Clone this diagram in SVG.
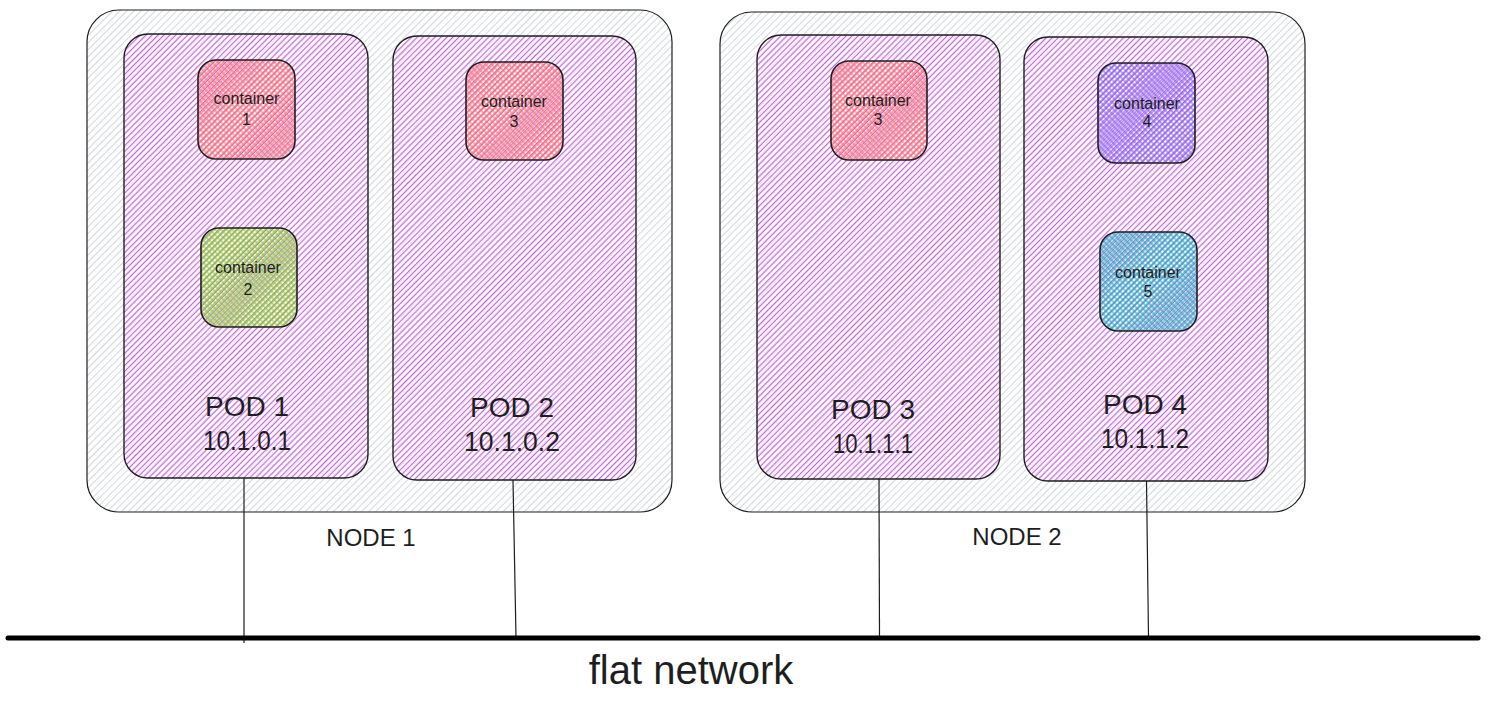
<svg xmlns="http://www.w3.org/2000/svg" width="1488" height="706" viewBox="0 0 1488 706">
  <defs>
    <pattern id="hNode" width="5" height="5" patternUnits="userSpaceOnUse" patternTransform="rotate(45)">
      <rect width="5" height="5" fill="#ffffff"/>
      <line x1="2.5" y1="0" x2="2.5" y2="5" stroke="#ced4da" stroke-width="0.9"/>
    </pattern>
    <pattern id="hPod" width="4.2" height="4.2" patternUnits="userSpaceOnUse" patternTransform="rotate(45)">
      <rect width="4.2" height="4.2" fill="#ffffff" fill-opacity="0.45"/>
      <line x1="2.1" y1="0" x2="2.1" y2="4.2" stroke="#c65fdd" stroke-width="1.15"/>
    </pattern>
    <pattern id="xRed" width="4" height="4" patternUnits="userSpaceOnUse" patternTransform="rotate(45)">
      <path d="M2 0V4M0 2H4" stroke="#ff6b6b" stroke-width="1.1"/>
    </pattern>
    <pattern id="xGreen" width="4" height="4" patternUnits="userSpaceOnUse" patternTransform="rotate(45)">
      <path d="M2 0V4M0 2H4" stroke="#82c91e" stroke-width="1.1"/>
    </pattern>
    <pattern id="xViolet" width="4" height="4" patternUnits="userSpaceOnUse" patternTransform="rotate(45)">
      <path d="M2 0V4M0 2H4" stroke="#8460f2" stroke-width="1.1"/>
    </pattern>
    <pattern id="xCyan" width="4" height="4" patternUnits="userSpaceOnUse" patternTransform="rotate(45)">
      <path d="M2 0V4M0 2H4" stroke="#15aabf" stroke-width="1.1"/>
    </pattern>
  </defs>
  <style>
    .node { fill: url(#hNode); stroke: #1e1e1e; stroke-width: 1.2; }
    .pod { fill: url(#hPod); stroke: #1e1e1e; stroke-width: 1.4; }
    .ctr { stroke: #1e1e1e; stroke-width: 1.6; }
    .red { fill: url(#xRed); }
    .green { fill: url(#xGreen); }
    .violet { fill: url(#xViolet); }
    .cyan { fill: url(#xCyan); }
    text { font-family: "Liberation Sans", Arial, sans-serif; fill: #1e1e1e; text-anchor: middle; }
    .ct { font-size: 16px; }
    .pl { font-size: 28px; }
    .nl { font-size: 24px; }
    .fl { font-size: 40px; }
    .conn { stroke: #1e1e1e; stroke-width: 1.2; fill: none; }
    .net { stroke: #000000; stroke-width: 5; stroke-linecap: round; fill: none; }
  </style>

  <g id="node1">
    <rect class="node" x="87" y="10" width="585" height="502" rx="32"/>
    <text class="nl" x="371" y="546">NODE 1</text>
  </g>
  <g id="node2">
    <rect class="node" x="720" y="12" width="585" height="500" rx="32"/>
    <text class="nl" x="1017" y="545">NODE 2</text>
  </g>

  <g id="pod1">
    <rect class="pod" x="124" y="34" width="244" height="444" rx="24"/>
    <text class="pl" x="247" y="416">POD 1</text>
    <text class="pl" x="247" y="450" textLength="88" lengthAdjust="spacingAndGlyphs">10.1.0.1</text>
  </g>
  <g id="pod2">
    <rect class="pod" x="393" y="36" width="243" height="444" rx="24"/>
    <text class="pl" x="512" y="417">POD 2</text>
    <text class="pl" x="512" y="451" textLength="96" lengthAdjust="spacingAndGlyphs">10.1.0.2</text>
  </g>
  <g id="pod3">
    <rect class="pod" x="757" y="35" width="243" height="444" rx="24"/>
    <text class="pl" x="873" y="419">POD 3</text>
    <text class="pl" x="873" y="453" textLength="80" lengthAdjust="spacingAndGlyphs">10.1.1.1</text>
  </g>
  <g id="pod4">
    <rect class="pod" x="1024" y="37" width="244" height="444" rx="24"/>
    <text class="pl" x="1145" y="414">POD 4</text>
    <text class="pl" x="1145" y="448" textLength="88" lengthAdjust="spacingAndGlyphs">10.1.1.2</text>
  </g>

  <g id="container1">
    <rect class="ctr red" x="198" y="60" width="97" height="99" rx="18"/>
    <text class="ct" x="246.5" y="104">container</text>
    <text class="ct" x="246.5" y="125">1</text>
  </g>
  <g id="container2">
    <rect class="ctr green" x="201" y="228" width="96" height="99" rx="18"/>
    <text class="ct" x="248" y="273">container</text>
    <text class="ct" x="248" y="295">2</text>
  </g>
  <g id="container3-pod2">
    <rect class="ctr red" x="466" y="62" width="97" height="98" rx="18"/>
    <text class="ct" x="514" y="107">container</text>
    <text class="ct" x="514" y="127">3</text>
  </g>
  <g id="container3-pod3">
    <rect class="ctr red" x="831" y="61" width="96" height="99" rx="18"/>
    <text class="ct" x="878" y="106">container</text>
    <text class="ct" x="878" y="125">3</text>
  </g>
  <g id="container4">
    <rect class="ctr violet" x="1098" y="63" width="97" height="100" rx="18"/>
    <text class="ct" x="1147" y="109">container</text>
    <text class="ct" x="1147" y="127">4</text>
  </g>
  <g id="container5">
    <rect class="ctr cyan" x="1100" y="232" width="97" height="99" rx="18"/>
    <text class="ct" x="1148" y="278">container</text>
    <text class="ct" x="1148" y="297">5</text>
  </g>

  <g id="flat-network-label">
    <text class="fl" x="691" y="684">flat network</text>
  </g>

  <g id="connectors">
    <line class="conn" x1="244" y1="478" x2="244" y2="643"/>
    <line class="conn" x1="513" y1="480" x2="516" y2="638"/>
    <line class="conn" x1="879" y1="479" x2="879.5" y2="639"/>
    <line class="conn" x1="1146.5" y1="481" x2="1148.5" y2="637"/>
    <line class="net" x1="8" y1="638" x2="1478" y2="638"/>
  </g>
</svg>
